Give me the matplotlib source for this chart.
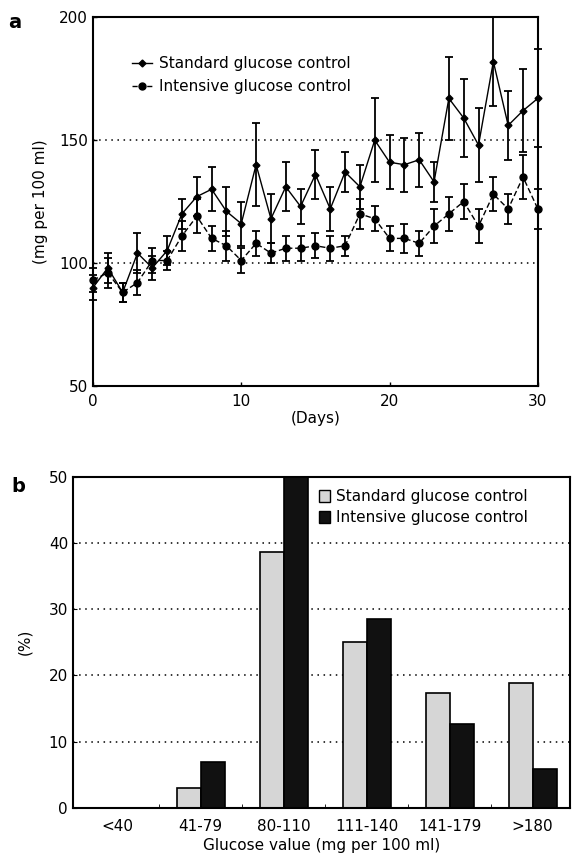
import matplotlib
matplotlib.use("Agg")
import matplotlib.pyplot as plt
import numpy as np
from matplotlib.lines import Line2D
from matplotlib.patches import Patch


# Panel a: daily mean glucose (mg per 100 ml) with error bars
days = list(range(0, 31))
standard = [90, 98, 88, 104, 98, 105, 120, 127, 130, 121, 116, 140, 118, 131, 123, 136,
            122, 137, 131, 150, 141, 140, 142, 133, 167, 159, 148, 182, 156, 162, 167]
standard_err = [5, 6, 4, 8, 5, 6, 6, 8, 9, 10, 9, 17, 10, 10, 7, 10,
                9, 8, 9, 17, 11, 11, 11, 8, 17, 16, 15, 18, 14, 17, 20]
intensive = [93, 96, 88, 92, 101, 101, 111, 119, 110, 107, 101, 108, 104, 106, 106, 107,
             106, 107, 120, 118, 110, 110, 108, 115, 120, 125, 115, 128, 122, 135, 122]
intensive_err = [5, 6, 4, 5, 5, 4, 6, 7, 5, 6, 5, 5, 4, 5, 5, 5,
                 5, 4, 6, 5, 5, 6, 5, 7, 7, 7, 7, 7, 6, 9, 8]

# Panel b: distribution of glucose values (%)
categories = ["<40", "41-79", "80-110", "111-140", "141-179", ">180"]
standard_pct = [0, 3.0, 38.6, 25.1, 17.4, 18.9]
intensive_pct = [0, 7.0, 49.9, 28.5, 12.7, 5.9]

plt.rcParams['font.family'] = ['DejaVu Sans']
plt.rcParams['font.size'] = 11

fig = plt.figure(figsize=(5.74, 8.65), dpi=100)

# ---- panel a ----
ax1 = fig.add_axes([0.162, 0.554, 0.775, 0.426])
for y in [100, 150]:
    ax1.axhline(y, color='black', lw=1.1, ls=(0, (1, 3)), zorder=0)

ax1.errorbar(days, standard, yerr=standard_err, fmt='-', marker='D', ms=3.5,
             color='black', lw=1.0, elinewidth=1.3, capsize=3, capthick=1.3, clip_on=False)
ax1.errorbar(days, intensive, yerr=intensive_err, fmt='--', marker='o', ms=5,
             color='black', lw=1.0, elinewidth=1.3, capsize=3, capthick=1.3,
             dashes=(4, 2), clip_on=False)

ax1.set_xlim(0, 30)
ax1.set_ylim(50, 200)
ax1.set_xticks([0, 10, 20, 30])
ax1.set_yticks([50, 100, 150, 200])
ax1.tick_params(direction='in', length=3, width=1)
ax1.tick_params(axis='x', pad=6)
ax1.set_xlabel("(Days)", labelpad=1)
ax1.set_ylabel("(mg per 100 ml)", labelpad=8)
for s in ax1.spines.values():
    s.set_linewidth(1.5)

h1 = [Line2D([], [], color='black', lw=1, marker='D', ms=3.5),
      Line2D([], [], color='black', lw=1, ls='--', marker='o', ms=5)]
ax1.legend(h1, ["Standard glucose control", "Intensive glucose control"],
           loc='upper left', bbox_to_anchor=(0.07, 0.915), frameon=False,
           handlelength=1.3, handletextpad=0.5, labelspacing=0.5, borderpad=0)

# ---- panel b ----
ax2 = fig.add_axes([0.127, 0.066, 0.866, 0.383])
for y in [10, 20, 30, 40]:
    ax2.axhline(y, color='black', lw=1.1, ls=(0, (1, 3)), zorder=0)

x = np.arange(len(categories))
w = 0.29
ax2.bar(x - w / 2, standard_pct, w, color='#d6d6d6', edgecolor='black', lw=1.2, zorder=2)
ax2.bar(x + w / 2, intensive_pct, w, color='#111111', edgecolor='black', lw=1.2, zorder=2)

ax2.set_xlim(-0.54, 5.45)
ax2.set_ylim(0, 50)
ax2.set_xticks(x)
ax2.set_xticklabels(categories)
ax2.set_xticks(x[:-1] + 0.5, minor=True)
ax2.tick_params(axis='x', which='major', length=0, pad=8)
ax2.tick_params(axis='x', which='minor', direction='in', length=3)
ax2.tick_params(axis='y', direction='in', length=3)
ax2.set_yticks([0, 10, 20, 30, 40, 50])
ax2.set_xlabel("Glucose value (mg per 100 ml)", labelpad=3)
ax2.set_ylabel("(%)", labelpad=12)
for s in ax2.spines.values():
    s.set_linewidth(1.5)

h2 = [Patch(facecolor='#d6d6d6', edgecolor='black'), Patch(facecolor='#111111', edgecolor='black')]
ax2.legend(h2, ["Standard glucose control", "Intensive glucose control"],
           loc='upper left', bbox_to_anchor=(0.48, 0.985), frameon=False,
           handlelength=0.7, handleheight=0.8, handletextpad=0.4, labelspacing=0.4, borderpad=0)

fig.text(0.015, 0.985, "a", fontsize=14, fontweight='bold', va='top')
fig.text(0.02, 0.448, "b", fontsize=14, fontweight='bold', va='top')

fig.savefig("out.png", dpi=100)
